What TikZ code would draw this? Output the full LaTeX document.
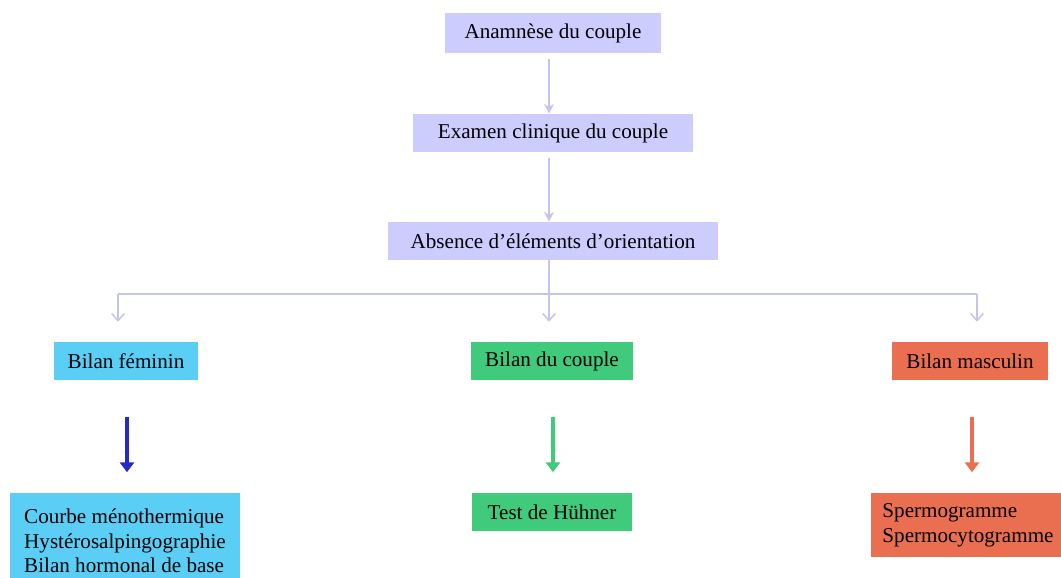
\documentclass[tikz,border=0pt]{standalone}
\usepackage{fontspec}
\setmainfont{Liberation Serif}
\usetikzlibrary{arrows.meta}
\definecolor{lavbox}{RGB}{204,204,255}
\definecolor{lavline}{RGB}{196,196,240}
\definecolor{cyanbox}{RGB}{90,206,245}
\definecolor{greenbox}{RGB}{64,202,124}
\definecolor{orangebox}{RGB}{234,110,80}
\definecolor{bluearrow}{RGB}{40,40,200}
\tikzset{
  box/.style={rectangle, fill=#1, inner sep=0pt, font=\fontsize{15}{17.5}\selectfont},
  lavarrow/.style={draw=lavline, line width=1.1pt, -{Stealth[length=7pt,width=7pt]}},
  droparrow/.style={draw=lavline, line width=1.1pt, -{Straight Barb[length=5pt,width=9pt]}},
  colarrow/.style={draw=#1, line width=2.4pt, -{Triangle[length=7pt,width=10pt]}}
}
\begin{document}
\begin{tikzpicture}[x=0.025cm, y=-0.025cm]
			\clip (0,0) rectangle (1061,578);
			\fill[white] (0,0) rectangle (1061,578);
			% top column
			\node[box=lavbox, minimum width=5.4cm,  minimum height=1.0cm]  (anam) at (553,33)  {Anamnèse du couple};
			\node[box=lavbox, minimum width=7.0cm,  minimum height=0.95cm] (exam) at (553,133) {Examen clinique du couple};
			\node[box=lavbox, minimum width=8.25cm, minimum height=0.95cm] (abs)  at (553,241) {Absence d’éléments d’orientation};
			% bilans
			\node[box=cyanbox,   minimum width=3.6cm,  minimum height=0.95cm] (fem)  at (126,361) {Bilan féminin};
			\node[box=greenbox,  minimum width=4.05cm, minimum height=0.95cm] (cpl)  at (552,361) {Bilan du couple};
			\node[box=orangebox, minimum width=3.9cm,  minimum height=0.95cm] (masc) at (970,361) {Bilan masculin};
			% examens
			\node[box=cyanbox,   minimum width=5.75cm, minimum height=2.4cm, align=left] (courbe) at (125,541)
				{Courbe ménothermique\\Hystérosalpingographie\\Bilan hormonal de base};
			\node[box=greenbox,  minimum width=4.0cm,  minimum height=0.95cm] (huhner) at (552,512) {Test de Hühner};
			\node[box=orangebox, minimum width=4.85cm, minimum height=1.6cm, align=left] (sperm) at (968,525)
				{Spermogramme\\Spermocytogramme};
			%
			\coordinate (split) at (549,294);
			\coordinate (jl) at (118,294);
			\coordinate (jr) at (977,294);
			\draw[lavarrow, shorten <=4pt] (anam.south -| split) -- (exam.north -| split);
			\draw[lavarrow, shorten <=4pt] (exam.south -| split) -- (abs.north -| split);
			\draw[draw=lavline, line width=1.1pt] (abs.south -| split) -- (split);
			\draw[draw=lavline, line width=1.1pt] (jl) -- (jr);
			\foreach \j/\b in {jl/fem, split/cpl, jr/masc}  % drops
			{	\draw[droparrow, shorten >=0.5cm] (\j) -- (\j |- \b.north);
			}
			\def\list {fem/courbe/bluearrow/127, cpl/huhner/greenbox/553, masc/sperm/orangebox/972}  % list elements
			\foreach \u\v\c\x in \list
			{	\draw[colarrow=\c, shorten <=0.92cm, shorten >=0.52cm] (\x,380) -- (\x,493);
			}
		\end{tikzpicture}
\end{document}
